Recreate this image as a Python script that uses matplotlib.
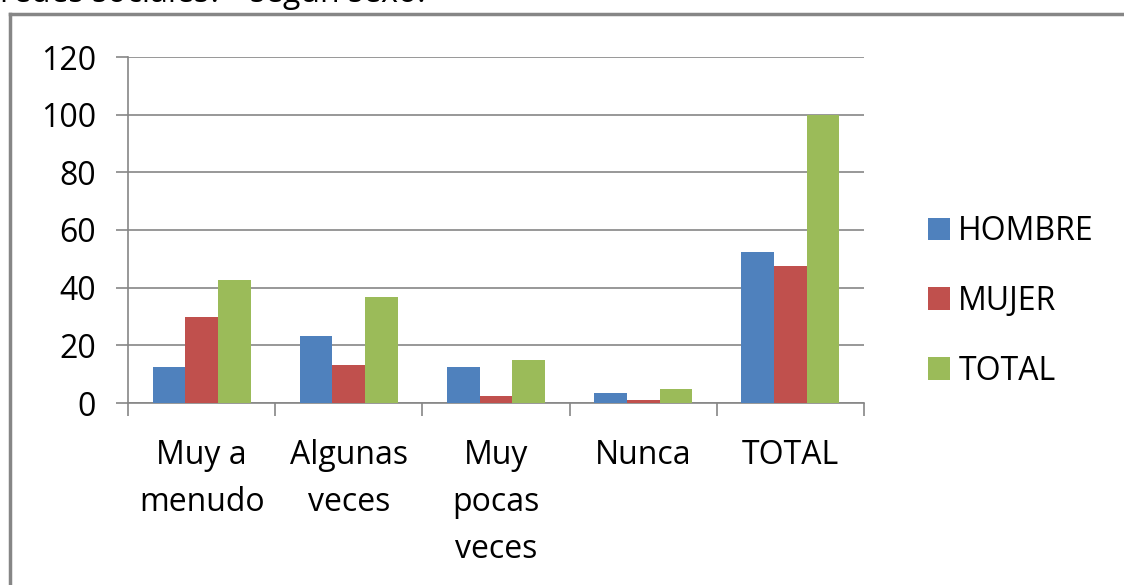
import numpy as np
import matplotlib.pyplot as plt
from matplotlib.lines import Line2D

# Datos
categorias = ['Muy a\nmenudo', 'Algunas\nveces', 'Muy\npocas\nveces', 'Nunca', 'TOTAL']
hombre = [12.5, 23.3, 12.5, 3.5, 52.5]
mujer = [30.0, 13.3, 2.5, 1.2, 47.5]
total = [42.5, 36.7, 15.0, 5.0, 100.0]
series = ['HOMBRE', 'MUJER', 'TOTAL']
colores = ['#4F81BD', '#C0504D', '#9BBB59']

plt.rcParams['font.family'] = ['Open Sans', 'DejaVu Sans']
gris = '#868686'
fs = 23

fig = plt.figure(figsize=(11.24, 5.85), dpi=100)
ax = fig.add_axes([128 / 1124, 1 - 403 / 585, (864 - 128) / 1124, (403 - 57) / 585])

x = np.arange(len(categorias))
ancho = 2 / 9
for i, (vals, nombre, c) in enumerate(zip([hombre, mujer, total], series, colores)):
    ax.bar(x + (i - 1) * ancho, vals, width=ancho, color=c, label=nombre, zorder=3)

ax.set_xlim(-0.5, len(categorias) - 0.5)
ax.set_ylim(0, 120)
ax.set_yticks(range(0, 121, 20))
ax.yaxis.grid(True, color=gris, linewidth=1.2, zorder=0)
ax.tick_params(axis='y', labelsize=fs, length=9, width=1.2, color=gris, pad=14)

# marcas del eje x en los limites de categoria
ax.set_xticks(np.arange(-0.5, len(categorias)))
ax.set_xticklabels([])
ax.tick_params(axis='x', length=9, width=1.2, color=gris)
for xi, lab in zip(x, categorias):
    ax.text(xi, -12.5, lab, ha='center', va='top', fontsize=fs, linespacing=1.55)

for s in ['top', 'right']:
    ax.spines[s].set_visible(False)
for s in ['left', 'bottom']:
    ax.spines[s].set_color(gris)
    ax.spines[s].set_linewidth(1.2)

fig.legend(loc='center left', bbox_to_anchor=(0.8, 0.485), frameon=False,
           fontsize=fs, handlelength=0.7, handleheight=0.7, handletextpad=0.25,
           labelspacing=1.15)

# marco exterior
fig.add_artist(Line2D([10 / 1124, 1.0], [1 - 14 / 585, 1 - 14 / 585], color=gris, linewidth=2.5))
fig.add_artist(Line2D([10 / 1124, 10 / 1124], [0, 1 - 14 / 585], color=gris, linewidth=2.5))

# titulo recortado arriba, como en el original
fig.text(0, 1 - 2 / 585, 'redes sociales? - según sexo.', fontsize=fs, va='baseline', ha='left')

fig.savefig('out.png', dpi=100)
